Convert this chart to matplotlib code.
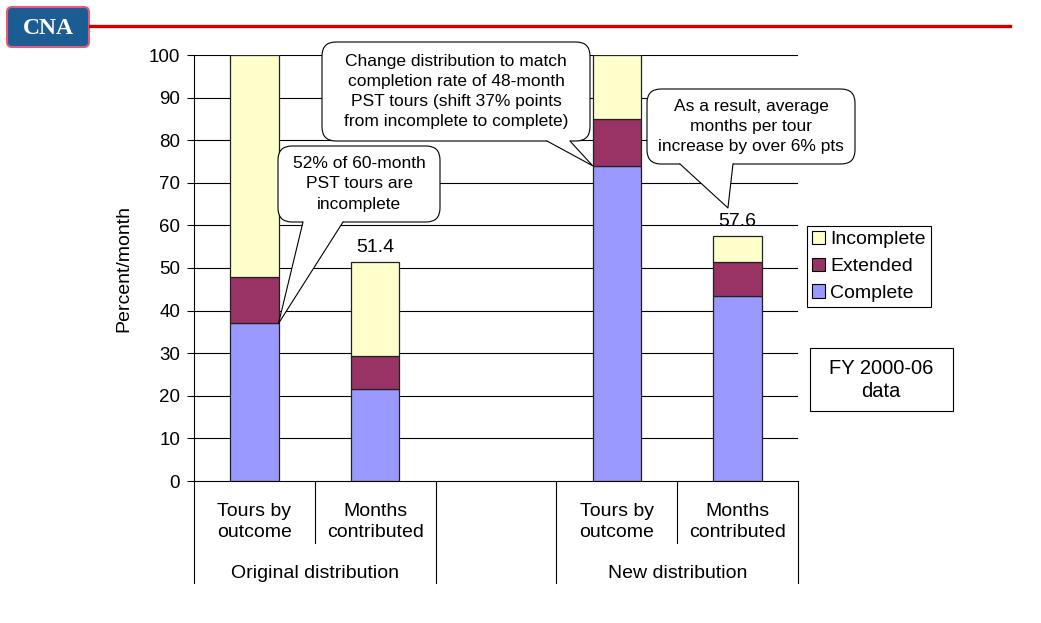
import matplotlib
matplotlib.use("Agg")
import matplotlib.pyplot as plt
from matplotlib.patches import FancyBboxPatch, Rectangle, Polygon, Patch
from matplotlib.lines import Line2D
from matplotlib.transforms import IdentityTransform, blended_transform_factory

plt.rcParams["font.family"] = ["Liberation Sans", "DejaVu Sans"]

# data
positions = [0, 1, 3, 4]
categories = ["Tours by\noutcome", "Months\ncontributed", "Tours by\noutcome", "Months\ncontributed"]
groups = ["Original distribution", "New distribution"]
complete = [37.0, 21.5, 74.0, 43.5]
extended = [11.0, 7.9, 11.0, 7.8]
incomplete = [52.0, 22.0, 15.0, 6.3]
labelled = [1, 3]

W, H = 1041, 623
c_complete = "#9999FF"
c_extended = "#993366"
c_incomplete = "#FFFFCC"
width = 0.4
fs = 14

fig = plt.figure(figsize=(W / 100, H / 100), dpi=100)
ax = fig.add_axes([194 / W, 1 - 481 / H, 604 / W, 426 / H])
ax.set_xlim(-0.5, 4.5)
ax.set_ylim(0, 100)

for y in range(10, 101, 10):
    ax.axhline(y, color="black", lw=0.8, zorder=1)

bottom2 = [a + b for a, b in zip(complete, extended)]
totals = [a + b + c for a, b, c in zip(complete, extended, incomplete)]
kw = dict(width=width, edgecolor="#222222", linewidth=0.9, zorder=3)
ax.bar(positions, complete, color=c_complete, **kw)
ax.bar(positions, extended, bottom=complete, color=c_extended, **kw)
ax.bar(positions, incomplete, bottom=bottom2, color=c_incomplete, **kw)

for i in labelled:
    ax.text(positions[i], totals[i] + 1.3, f"{totals[i]:.1f}", ha="center",
            va="bottom", fontsize=fs, zorder=4)

ax.set_yticks(range(0, 101, 10))
ax.tick_params(axis="y", direction="out", length=5, width=0.8, labelsize=13.5, pad=5)
ax.set_xticks([])
for s in ["top", "right"]:
    ax.spines[s].set_visible(False)
ax.spines["left"].set_linewidth(0.8)
ax.spines["bottom"].set_linewidth(0.8)

fig.text(124 / W, 1 - 268 / H, "Percent/month", rotation=90, ha="center",
         va="center", fontsize=fs)

# two-level category axis
bt = blended_transform_factory(ax.transData, ax.transAxes)
ah = 426.0
for x in [0.5, 3.5]:
    ax.add_line(Line2D([x, x], [0, -62 / ah], transform=bt, color="black",
                       lw=0.8, clip_on=False))
for x in [-0.5, 1.5, 2.5, 4.5]:
    ax.add_line(Line2D([x, x], [0, -102 / ah], transform=bt, color="black",
                       lw=0.8, clip_on=False))
for p, lab in zip(positions, categories):
    ax.text(p, -41 / ah, lab, transform=bt, ha="center", va="center",
            fontsize=fs, linespacing=1.3)
ax.text(0.5, -92 / ah, groups[0], transform=bt, ha="center", va="center", fontsize=fs)
ax.text(3.5, -92 / ah, groups[1], transform=bt, ha="center", va="center", fontsize=fs)

# legend
handles = [Patch(facecolor=c_incomplete, edgecolor="black", lw=0.8, label="Incomplete"),
           Patch(facecolor=c_extended, edgecolor="black", lw=0.8, label="Extended"),
           Patch(facecolor=c_complete, edgecolor="black", lw=0.8, label="Complete")]
leg = fig.legend(handles=handles, loc="upper left", bbox_to_anchor=(807 / W, 1 - 226 / H),
                 fancybox=False, edgecolor="black", fontsize=fs, borderpad=0.25,
                 handlelength=0.7, handleheight=0.7, handletextpad=0.25,
                 labelspacing=0.47, borderaxespad=0, framealpha=1)
leg.get_frame().set_linewidth(0.8)

ident = IdentityTransform()

# FY box
fig.add_artist(Rectangle((810, H - 411), 143, 63, transform=ident, fc="white",
                         ec="black", lw=0.8))
fig.text(881 / W, 1 - 380 / H, "FY 2000-06\ndata", ha="center", va="center",
         fontsize=14.5, linespacing=1.25)


def bubble(x0, y0, x1, y1, xa, xb, tip, text):
    # box in pixel coords, top-down y; tip in display coords
    fig.add_artist(FancyBboxPatch((x0, H - y1), x1 - x0, y1 - y0,
                                  boxstyle="round,pad=0,rounding_size=14",
                                  transform=ident, fc="white", ec="black",
                                  lw=0.8, zorder=5))
    ya = H - y1
    fig.add_artist(Polygon([(xa, ya + 3), (xa, ya), tip, (xb, ya), (xb, ya + 3)],
                           closed=True, transform=ident, fc="white", ec="none",
                           zorder=6))
    fig.add_artist(Line2D([xa, tip[0], xb], [ya, tip[1], ya], transform=ident,
                          color="black", lw=0.8, zorder=7))
    fig.text((x0 + x1) / 2 / W, 1 - (y0 + y1) / 2 / H, text, ha="center",
             va="center", fontsize=12.5, linespacing=1.42, zorder=8)


tip1 = ax.transData.transform((positions[0] + width / 2, complete[0]))
tip2 = ax.transData.transform((positions[2] - width / 2, complete[2]))
tip3 = ax.transData.transform((positions[3] - 0.08, totals[3] + 6.5))
bubble(278, 146, 440, 222, 303, 343, tip1,
       "52% of 60-month\nPST tours are\nincomplete")
bubble(322, 42, 590, 141, 547, 570, tip2,
       "Change distribution to match\ncompletion rate of 48-month\n"
       "PST tours (shift 37% points\nfrom incomplete to complete)")
bubble(647, 89, 855, 164, 680, 733, tip3,
       "As a result, average\nmonths per tour\nincrease by over 6% pts")

# header: logo and red rule
fig.add_artist(Line2D([90, 1010], [H - 26, H - 26], transform=ident,
                      color="#cc0000", lw=2.4))
fig.add_artist(FancyBboxPatch((7, H - 47), 82, 40,
                              boxstyle="round,pad=0,rounding_size=5",
                              transform=ident, fc="#1b5d92", ec="#e8587a", lw=1.5))
fig.text(48 / W, 1 - 28 / H, "CNA", color="white", ha="center", va="center",
         fontsize=17, fontweight="bold", family=["Liberation Serif", "DejaVu Serif"])

fig.savefig("out.png", dpi=100)
